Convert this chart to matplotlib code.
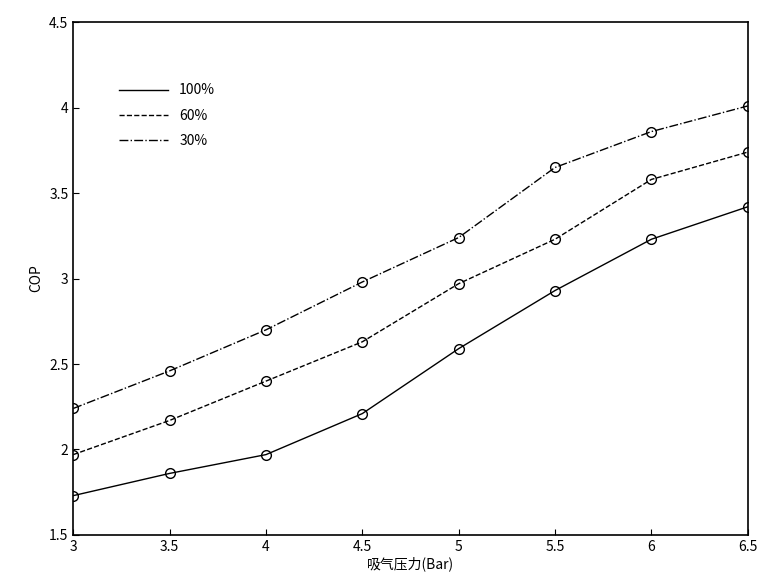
import matplotlib
matplotlib.use('Agg')
import matplotlib.pyplot as plt
from matplotlib.lines import Line2D

plt.rcParams['font.family'] = ['Noto Sans CJK SC', 'DejaVu Sans']

# 吸气压力 (Bar)
pressure = [3, 3.5, 4, 4.5, 5, 5.5, 6, 6.5]
cop_100 = [1.73, 1.86, 1.97, 2.21, 2.59, 2.93, 3.23, 3.42]
cop_60 = [1.97, 2.17, 2.40, 2.63, 2.97, 3.23, 3.58, 3.74]
cop_30 = [2.24, 2.46, 2.70, 2.98, 3.24, 3.65, 3.86, 4.01]
labels = ['100%', '60%', '30%']
styles = ['-', '--', '-.']

fig = plt.figure(figsize=(7.63, 5.84), dpi=100)
ax = fig.add_axes([0.096, 0.084, 0.884, 0.878])

for ys, ls in zip([cop_100, cop_60, cop_30], styles):
    ax.plot(pressure, ys, color='black', lw=1, ls=ls, marker='o',
            mfc='none', ms=7, mew=1)

ax.set_xlim(3, 6.5)
ax.set_ylim(1.5, 4.5)
ax.set_xticks(pressure)
ax.set_xticklabels(['3', '3.5', '4', '4.5', '5', '5.5', '6', '6.5'])
ax.set_yticks([1.5, 2, 2.5, 3, 3.5, 4, 4.5])
ax.set_yticklabels(['1.5', '2', '2.5', '3', '3.5', '4', '4.5'])
ax.tick_params(direction='in', length=4, labelsize=10, color='black')
for s in ax.spines.values():
    s.set_linewidth(1.2)

ax.set_xlabel('吸气压力(Bar)', fontsize=10, labelpad=2)
ax.set_ylabel('COP', fontsize=10, labelpad=4)

# legend shows the line styles only, no markers
handles = [Line2D([], [], color='black', lw=1, ls=ls) for ls in styles]
ax.legend(handles, labels, loc='upper left', bbox_to_anchor=(0.05, 0.905),
          frameon=False, fontsize=10, handlelength=3.5, labelspacing=0.8)

fig.savefig('out.png', dpi=100)
